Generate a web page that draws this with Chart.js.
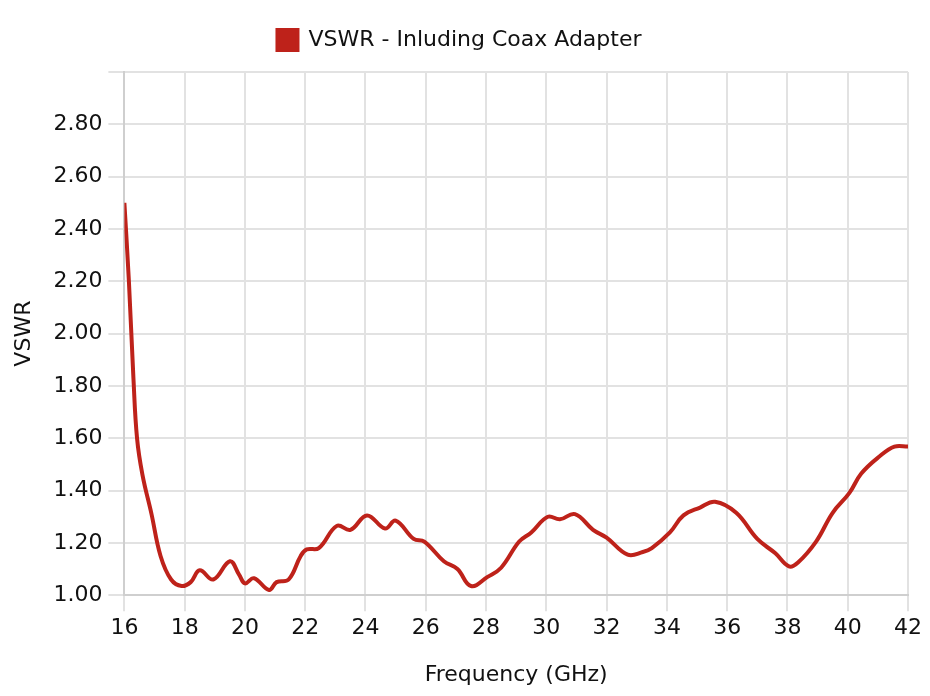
<!DOCTYPE html>
<html>
<head>
<meta charset="utf-8">
<script src="https://cdn.jsdelivr.net/npm/chart.js@4"></script>
<style>
  body { margin: 0; background: #fff; }
  #wrap { width: 930px; height: 696px; }
</style>
</head>
<body>
<div id="wrap"><canvas id="vswr_chart" width="930" height="696"></canvas></div>
<script>
// frequency (GHz) and VSWR
const freq_ghz = [
    16.0, 16.15, 16.3, 16.42, 16.6, 16.9, 17.2, 17.55, 17.9, 18.2,
    18.5, 18.95, 19.5, 19.8, 20.0, 20.3, 20.8, 21.05, 21.45, 21.85,
    22.05, 22.45, 23.05, 23.5, 24.05, 24.65, 25.0, 25.6, 25.95, 26.6,
    27.05, 27.5, 28.05, 28.5, 29.1, 29.5, 30.05, 30.45, 30.95, 31.55,
    32.0, 32.7, 33.2, 33.5, 34.1, 34.55, 35.1, 35.6, 36.3, 37.0,
    37.6, 38.05, 38.35, 38.95, 39.5, 40.05, 40.45, 41.05, 41.55, 42.0
];
const vswr_values = [
    2.50, 2.20, 1.83, 1.60, 1.46, 1.31, 1.15, 1.06, 1.035, 1.05,
    1.095, 1.06, 1.13, 1.08, 1.045, 1.065, 1.02, 1.05, 1.06, 1.15,
    1.175, 1.18, 1.265, 1.25, 1.305, 1.255, 1.285, 1.215, 1.205, 1.13,
    1.10, 1.035, 1.07, 1.105, 1.205, 1.24, 1.30, 1.29, 1.31, 1.25,
    1.22, 1.155, 1.165, 1.18, 1.24, 1.305, 1.335, 1.357, 1.315, 1.215,
    1.16, 1.11, 1.125, 1.205, 1.315, 1.39, 1.465, 1.53, 1.568, 1.568
];

const font_family = "'DejaVu Sans', sans-serif";
const line_colour = "rgb(190, 34, 26)";

const vswr_points = freq_ghz.map((f, i) => ({ x: f, y: vswr_values[i] }));

// extra space under the legend
const legend_gap = {
    id: "legend_gap",
    beforeInit(chart)
    {
        const fit = chart.legend.fit;
        chart.legend.fit = function ()
        {
            fit.bind(chart.legend)();
            this.height += 11;
        };
    }
};

const vswr_chart = new Chart("vswr_chart",
{
    type: "line",
    data:
    {
        datasets:
        [
            {
                label: "VSWR - Inluding Coax Adapter",
                data: vswr_points,
                fill: false,
                borderColor: line_colour,
                backgroundColor: line_colour,
                borderWidth: 4,
                pointRadius: 0,
                tension: 0.4
            }
        ]
    },
    options:
    {
        responsive: false,
        animation: false,
        layout: { padding: { left: 11, right: 22, top: 4, bottom: 8 } },
        plugins:
        {
            legend:
            {
                display: true,
                labels:
                {
                    boxWidth: 20,
                    boxHeight: 20,
                    color: "#111",
                    font: { family: font_family, size: 22 },
                    padding: 25
                }
            },
            tooltip: { enabled: false }
        },
        scales:
        {
            x:
            {
                type: "linear",
                min: 16,
                max: 42,
                grid: { color: "#e2e2e2", tickLength: 16, lineWidth: 2 },
                border: { color: "#cfcfcf", width: 2 },
                ticks:
                {
                    stepSize: 2,
                    color: "#111",
                    padding: 4,
                    font: { family: font_family, size: 22 }
                },
                title:
                {
                    display: true,
                    text: "Frequency (GHz)",
                    color: "#111",
                    padding: { top: 16, bottom: 0 },
                    font: { family: font_family, size: 22 }
                }
            },
            y:
            {
                min: 1,
                max: 3,
                grid: { color: "#e2e2e2", tickLength: 16, lineWidth: 2 },
                border: { color: "#cfcfcf", width: 2 },
                ticks:
                {
                    stepSize: 0.2,
                    color: "#111",
                    padding: 6,
                    font: { family: font_family, size: 22 },
                    callback: (v) => v >= 2.99 ? "" : v.toFixed(2)
                },
                title:
                {
                    display: true,
                    text: "VSWR",
                    color: "#111",
                    padding: { top: 0, bottom: 10 },
                    font: { family: font_family, size: 22 }
                }
            }
        }
    },
    plugins: [legend_gap]
});
</script>
</body>
</html>
